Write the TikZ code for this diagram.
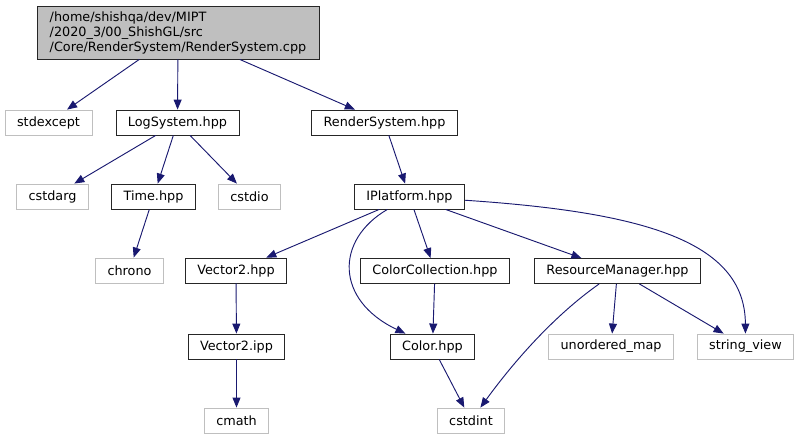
\documentclass[tikz,border=0pt]{standalone}
\usepackage{fontspec}
\setmainfont{DejaVu Sans}
\usetikzlibrary{arrows.meta}
\definecolor{edgeblue}{HTML}{191970}
\definecolor{sysgray}{HTML}{BFBFBF}
\tikzset{
  hdr/.style={draw=black!85,line width=.65pt,inner xsep=9pt,inner ysep=0pt,minimum height=18.75pt},
  sys/.style={draw=sysgray,line width=.65pt,inner xsep=9pt,inner ysep=0pt,minimum height=18.75pt},
  dep/.style={draw=edgeblue,line width=.7pt,-{Triangle[length=7.5pt,width=6pt]}}
}
\begin{document}
\begin{tikzpicture}[x=.75pt,y=-.75pt,font=\fontsize{9.6}{11.25}\selectfont]
\useasboundingbox (0,0) rectangle (800,440);
\node[hdr,fill=sysgray,align=left,minimum width=211.5pt,minimum height=39.75pt] (root) at (178,32.5)
  {/home/shishqa/dev/MIPT\\/2020\_3/00\_ShishGL/src\\/Core/RenderSystem/RenderSystem.cpp};
\node[sys] (stdexcept) at (48.5,122.5) {stdexcept};
\node[hdr] (log) at (177.5,122.5) {LogSystem.hpp};
\node[hdr] (rs) at (384.5,122.5) {RenderSystem.hpp};
\node[sys] (cstdarg) at (52.5,196.5) {cstdarg};
\node[hdr] (time) at (153.5,196.5) {Time.hpp};
\node[sys] (cstdio) at (249.5,196.5) {cstdio};
\node[hdr] (ip) at (409.5,196.5) {IPlatform.hpp};
\node[sys] (chrono) at (129.5,270.5) {chrono};
\node[hdr] (v2) at (236,270.5) {Vector2.hpp};
\node[hdr] (cc) at (435,271) {ColorCollection.hpp};
\node[hdr] (rm) at (617.5,271) {ResourceManager.hpp};
\node[hdr] (v2ipp) at (236.5,346.5) {Vector2.ipp};
\node[hdr] (color) at (432.5,346.5) {Color.hpp};
\node[sys] (umap) at (611,346.5) {unordered\_map};
\node[sys] (sv) at (745.5,346.5) {string\_view};
\node[sys] (cmath) at (236.5,420.5) {cmath};
\node[sys] (cstdint) at (471,420.5) {cstdint};
\draw[dep] (root) -- (stdexcept);
\draw[dep] (root) -- (log);
\draw[dep] (root) -- (rs);
\draw[dep] (log) -- (cstdarg);
\draw[dep] (log) -- (time);
\draw[dep] (log) -- (cstdio);
\draw[dep] (time) -- (chrono);
\draw[dep] (rs) -- (ip);
\draw[dep] (ip) -- (v2);
\draw[dep] (ip) .. controls (335,240) and (335,300) .. (color);
\draw[dep] (ip) -- (cc);
\draw[dep] (ip) -- (rm);
\draw[dep] (ip) .. controls (640,212) and (745,240) .. (sv);
\draw[dep] (v2) -- (v2ipp);
\draw[dep] (v2ipp) -- (cmath);
\draw[dep] (cc) -- (color);
\draw[dep] (color) -- (cstdint);
\draw[dep] (rm) .. controls (555,315) and (515,360) .. (cstdint);
\draw[dep] (rm) -- (umap);
\draw[dep] (rm) -- (sv);
\end{tikzpicture}
\end{document}
